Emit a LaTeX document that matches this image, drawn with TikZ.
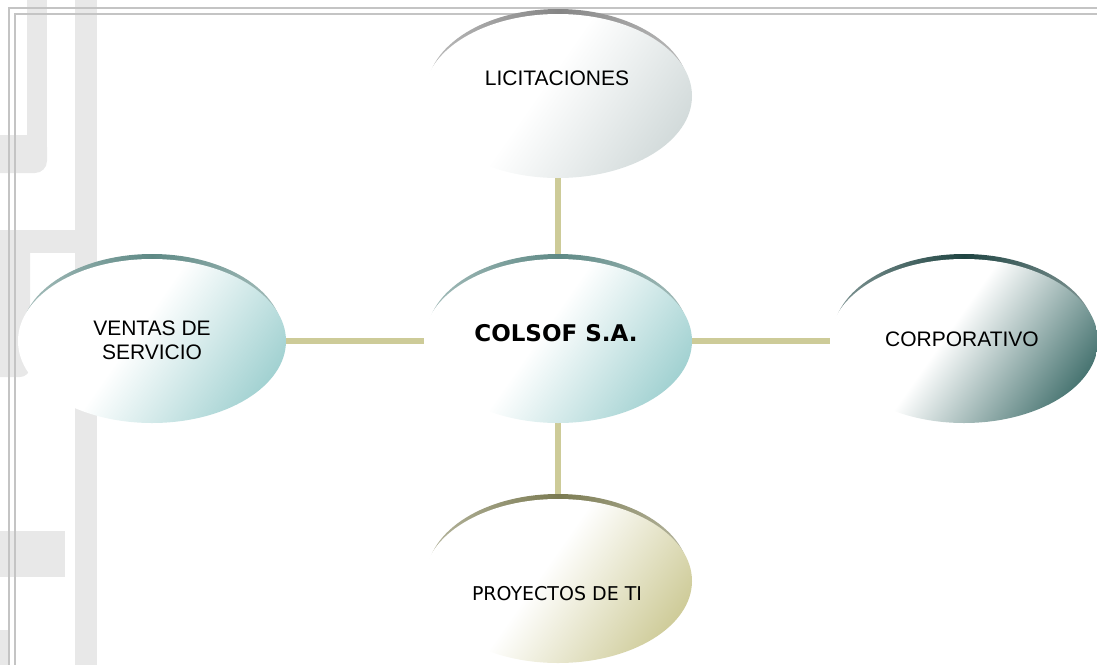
\documentclass[tikz,border=0pt]{standalone}
\usepackage{fontspec}
\setmainfont{Liberation Sans}
\newfontfamily\tahfont{DejaVu Sans}
\usetikzlibrary{shapes.geometric}
\definecolor{wm}{HTML}{E8E8E8}
\definecolor{framec}{HTML}{C4C4C4}
\definecolor{linkc}{HTML}{CDCB98}
\definecolor{arcgray}{HTML}{858585}
\definecolor{arcteal}{HTML}{5E8985}
\definecolor{arcdark}{HTML}{1F4442}
\definecolor{arcolive}{HTML}{7B7B52}
\definecolor{fillgray}{HTML}{D3DBDB}
\definecolor{fillteal}{HTML}{A3D2D2}
\definecolor{filldark}{HTML}{4A7673}
\definecolor{fillolive}{HTML}{CFCC9A}
\pgfdeclareverticalshading{shgray}{100bp}{color(0bp)=(fillgray); color(24bp)=(fillgray); color(54bp)=(white); color(100bp)=(white)}
\pgfdeclareverticalshading{shteal}{100bp}{color(0bp)=(fillteal); color(24bp)=(fillteal); color(54bp)=(white); color(100bp)=(white)}
\pgfdeclareverticalshading{shdark}{100bp}{color(0bp)=(filldark); color(24bp)=(filldark); color(54bp)=(white); color(100bp)=(white)}
\pgfdeclareverticalshading{sholive}{100bp}{color(0bp)=(fillolive); color(24bp)=(fillolive); color(54bp)=(white); color(100bp)=(white)}
\pgfdeclarelayer{bg}
\pgfdeclarelayer{shadow}
\pgfsetlayers{bg,shadow,main}
\begin{document}
\begin{tikzpicture}[x=1pt,y=-1pt,
  oval/.style={ellipse, minimum width=268pt, minimum height=164pt, inner sep=0pt, shade, shading=#1, shading angle=55},
  rim/.style={left color=#1!55, right color=#1!55, middle color=#1},
  linkline/.style={draw=linkc, line width=6pt},
  framel/.style={draw=framec, line width=2pt},
  lbl/.style={font=\fontsize{21}{24}\selectfont, align=center, text=black},
  tlbl/.style={font=\tahfont\fontsize{19}{23}\selectfont, align=center, text=black},
  blbl/.style={font=\tahfont\bfseries\fontsize{23}{27}\selectfont, align=center, text=black}]
\useasboundingbox (0,0) rectangle (1097,664);
% ellipses
\node[oval=shgray] (lic) at (558,96) {};
\node[oval=shteal] (col) at (558,341) {};
\node[oval=shteal] (ven) at (152,341) {};
\node[oval=shdark] (cor) at (964,341) {};
\node[oval=sholive] (pro) at (558,581) {};
% rims
\begin{pgfonlayer}{shadow}
  \path[rim=arcgray] ([yshift=5pt]lic.center) ellipse [x radius=131pt, y radius=82pt];
  \path[rim=arcteal] ([yshift=5pt]col.center) ellipse [x radius=131pt, y radius=82pt];
  \path[rim=arcteal] ([yshift=5pt]ven.center) ellipse [x radius=131pt, y radius=82pt];
  \path[rim=arcdark] ([yshift=5pt]cor.center) ellipse [x radius=131pt, y radius=82pt];
  \path[rim=arcolive] ([yshift=5pt]pro.center) ellipse [x radius=131pt, y radius=82pt];
\end{pgfonlayer}
% background watermark, frame and connectors
\begin{pgfonlayer}{bg}
  \fill[wm] (27,-5) rectangle (47,160);
  \fill[wm, rounded corners=12pt] (-20,135) rectangle (47,173);
  \fill[wm] (75,-5) rectangle (97,670);
  \fill[wm] (-5,230) rectangle (75,253);
  \fill[wm, rounded corners=10pt] (-20,240) rectangle (30,377);
  \fill[wm] (-5,531) rectangle (65,577);
  \fill[wm] (-5,630) rectangle (8,670);
  \draw[framel] (9,670) -- (9,8) -- (1100,8);
  \draw[framel] (15,670) -- (15,14) -- (1100,14);
  \draw[linkline] (lic) -- (col);
  \draw[linkline] (col) -- (pro);
  \draw[linkline] (ven) -- (col);
  \draw[linkline] (col) -- (cor);
\end{pgfonlayer}
% labels
\node[lbl] (licT) at (557,78) {LICITACIONES};
\node[lbl] (venT) at (152,340) {VENTAS DE\\SERVICIO};
\node[blbl] (colT) at (556,333) {COLSOF S.A.};
\node[lbl] (corT) at (962,339) {CORPORATIVO};
\node[tlbl] (proT) at (557,594) {PROYECTOS DE TI};
\end{tikzpicture}
\end{document}
